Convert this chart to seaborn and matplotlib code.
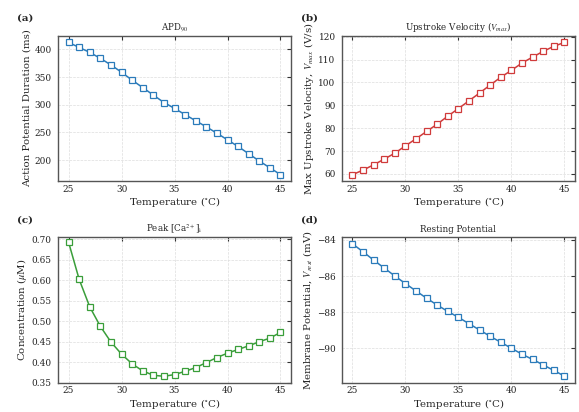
import numpy as np
import pandas as pd
import matplotlib
matplotlib.use("Agg")
import matplotlib.pyplot as plt
import seaborn as sns

temperature = [25, 26, 27, 28, 29, 30, 31, 32, 33, 34, 35, 36, 37, 38, 39, 40, 41, 42, 43, 44, 45]
apd90 = [412.6, 403.6, 394.6, 383.8, 371.9, 358.7, 344.3, 331.0, 317.4, 304.0, 293.4,
         282.0, 271.0, 260.0, 248.5, 236.5, 224.5, 211.4, 198.2, 186.0, 173.6]
vmax = [59.7, 61.7, 64.0, 66.5, 69.1, 72.3, 75.4, 78.6, 81.8, 85.3, 88.6,
        92.0, 95.4, 98.9, 102.3, 105.3, 108.5, 111.1, 113.6, 115.8, 117.5]
ca_peak = [0.6926, 0.6019, 0.5348, 0.4874, 0.449, 0.4196, 0.3958, 0.3786, 0.368, 0.3656, 0.3697,
           0.3778, 0.3868, 0.399, 0.4114, 0.422, 0.431, 0.44, 0.4498, 0.4588, 0.4727]
vrest = [-84.22, -84.66, -85.12, -85.56, -86.0, -86.42, -86.83, -87.23, -87.61, -87.96, -88.29,
         -88.64, -88.99, -89.34, -89.67, -90.0, -90.33, -90.62, -90.92, -91.23, -91.54]

df = pd.DataFrame({"T": temperature, "apd": apd90, "vmax": vmax, "ca": ca_peak, "vrest": vrest})

sns.set_theme(style="whitegrid")
plt.rcParams["font.family"] = ["DejaVu Serif"]
plt.rcParams["mathtext.fontset"] = "stix"

fig, axes = plt.subplots(2, 2, figsize=(5.79, 4.12), dpi=100)
fig.subplots_adjust(left=0.1002, right=0.993, top=0.913, bottom=0.0712, wspace=0.218, hspace=0.385)

panels = [
    ("apd", "#2b7bba", "APD$_{90}$", "Action Potential Duration (ms)", "(a)"),
    ("vmax", "#d03b3b", "Upstroke Velocity ($V_{max}$)", "Max Upstroke Velocity, $V_{max}$ (V/s)", "(b)"),
    ("ca", "#3a9e3a", "Peak [Ca$^{2+}$]$_{\\rm i}$", "Concentration ($\\mu$M)", "(c)"),
    ("vrest", "#2b7bba", "Resting Potential", "Membrane Potential, $V_{rest}$ (mV)", "(d)"),
]

for ax, (col, color, title, ylabel, tag) in zip(axes.flat, panels):
    sns.lineplot(data=df, x="T", y=col, ax=ax, color=color, linewidth=1.1,
                 marker="s", markersize=4, markerfacecolor="white",
                 markeredgecolor=color, markeredgewidth=0.9)
    ax.set_facecolor("white")
    ax.grid(True, linestyle="--", linewidth=0.5, color="#dddddd")
    for s in ax.spines.values():
        s.set_color("#555555")
        s.set_linewidth(1.0)
    ax.tick_params(direction="in", top=True, right=True, length=3, width=0.8,
                   labelsize=6.4, colors="#333333", labelcolor="#222222")
    ax.tick_params(axis="y", pad=4.5)
    ax.tick_params(axis="x", pad=2.5)
    ax.set_xticks([25, 30, 35, 40, 45])
    ax.set_title(title, fontsize=6.3, pad=4)
    ax.set_ylabel(ylabel, fontsize=7.4, labelpad=2)
    ax.set_xlabel("Temperature ($^{\\circ}$C)", fontsize=7.4, labelpad=1)
    ax.text(-0.175, 1.121, tag, transform=ax.transAxes, fontsize=7.5, fontweight="bold",
            va="center", ha="left")

axes[0, 0].set_yticks([200, 250, 300, 350, 400])
axes[0, 1].set_yticks([60, 70, 80, 90, 100, 110, 120])
axes[1, 0].set_yticks([0.35, 0.40, 0.45, 0.50, 0.55, 0.60, 0.65, 0.70])
axes[1, 0].set_ylim(0.35, 0.705)
axes[1, 1].set_yticks([-90, -88, -86, -84])
axes[1, 0].yaxis.set_major_formatter(matplotlib.ticker.FormatStrFormatter("%.2f"))

fig.savefig("out.png", dpi=100)
